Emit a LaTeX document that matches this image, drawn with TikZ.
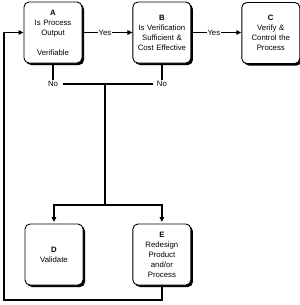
\documentclass[tikz,border=0pt]{standalone}
\usepackage{fontspec}
\setmainfont{Liberation Sans}
\usetikzlibrary{arrows.meta,positioning,shadows}

\begin{document}
\begin{tikzpicture}[
  x=1bp, y=-1bp, >={Triangle[length=5bp,width=4.5bp]},
  font=\fontsize{7.8}{10}\selectfont, node distance=50bp,
  stepbox/.style={draw, line width=0.9bp, rounded corners=5bp, fill=white,
    minimum width=58bp, minimum height=61bp, text width=56bp, align=center,
    inner xsep=1bp,
    drop shadow={shadow xshift=2bp, shadow yshift=-2bp, fill=black, opacity=1}},
  flow/.style={line width=1.2bp},
  lbl/.style={font=\fontsize{7.8}{8}\selectfont, inner sep=1bp, fill=white},
]
\useasboundingbox (0,0) rectangle (300,305);

% ── top row: A -> B -> C ───────────────────────────────────────────
\node[stepbox] (A) at (53,32.5)
  {\textbf{A}\\Is Process\\Output\\[10bp]Verifiable};
\node[stepbox, right=50bp of A] (B)
  {\textbf{B}\\Is Verification\\Sufficient \&\\Cost Effective};
\node[stepbox, right=50bp of B, yshift=-0.5bp] (C)
  {\textbf{C}\\Verify \&\\Control the\\Process};

% ── bottom row: D and E ────────────────────────────────────────────
\node[stepbox] (D) at (54,254.5) {\textbf{D}\\Validate\\[12bp]};
\node[stepbox, right=49bp of D] (E)
  {\textbf{E}\\Redesign\\Product\\and/or\\Process};

% ── "No" branch points ─────────────────────────────────────────────
\node[lbl] (noA) at (A.south |- 0,84) {No};
\node[lbl] (noB) at (B.south |- 0,84) {No};
\coordinate (split) at (105,84);
\coordinate (fork) at (105,205);
\coordinate (loopBot) at (4,300);

% ── connectors ─────────────────────────────────────────────────────
\draw[->, flow] (A.east) -- (B.west) node[lbl, pos=0.45]{Yes};
\draw[->, flow] (B.east) -- (C.west |- B.east) node[lbl, pos=0.45]{Yes};
\draw[flow] (A.south) -- (noA.north);
\draw[flow] (B.south) -- (noB.north);
\draw[flow] ([xshift=4bp]noA.east) -- ([xshift=-3bp]noB.west);
\draw[flow] (split) -- (fork);
\draw[->, flow, shorten >=1.5bp] (fork) -| (D.north);
\draw[->, flow, shorten >=1.5bp] (fork) -| (E.north);

% feedback E -> A
\draw[->, flow] (E.south) |- (loopBot) |- (A.west);

\end{tikzpicture}
\end{document}
